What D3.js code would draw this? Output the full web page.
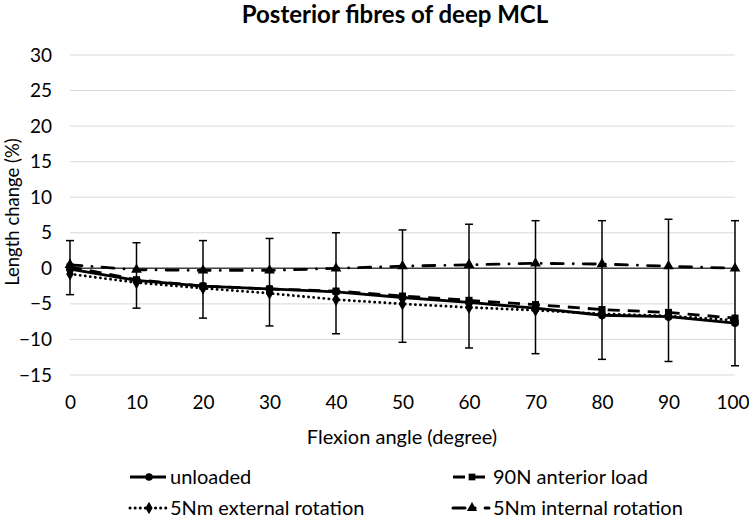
<!DOCTYPE html>
<html>
<head>
<meta charset="utf-8">
<script src="https://cdn.jsdelivr.net/npm/d3@7"></script>
<style>
  body { margin: 0; background: #fff; }
  svg { font-family: Lato, "Open Sans", sans-serif; }
</style>
</head>
<body>
<div id="chart"></div>
<script>
// --- DATA ---
const angles = [0, 10, 20, 30, 40, 50, 60, 70, 80, 90, 100];
const unloaded = [-0.1, -1.7, -2.5, -2.9, -3.3, -4.1, -4.8, -5.6, -6.6, -6.8, -7.7];
const anteriorLoad = [0.2, -1.6, -2.5, -2.9, -3.2, -3.9, -4.5, -5.1, -5.8, -6.2, -7.0];
const externalRot = [-0.8, -2.0, -2.8, -3.5, -4.4, -5.0, -5.5, -5.9, -6.4, -6.7, -7.3];
const internalRot = [0.5, -0.2, -0.3, -0.3, 0.0, 0.3, 0.5, 0.7, 0.6, 0.3, 0.0];
const errTop = [3.9, 3.6, 3.9, 4.2, 5.0, 5.4, 6.2, 6.7, 6.7, 6.9, 6.7];
const errBottom = [-3.7, -5.6, -7.0, -8.1, -9.2, -10.4, -11.2, -12.0, -12.8, -13.1, -13.7];
const yTicks = [-15, -10, -5, 0, 5, 10, 15, 20, 25, 30];

const series = [
  { name: "unloaded", values: unloaded, dash: null, marker: d3.symbolCircle },
  { name: "90N anterior load", values: anteriorLoad, dash: "12,8", marker: d3.symbolSquare },
  { name: "5Nm external rotation", values: externalRot, dash: "0.1,5", cap: "round", marker: d3.symbolDiamond },
  { name: "5Nm internal rotation", values: internalRot, dash: "12,10,0.1,10", cap: "round", marker: d3.symbolTriangle }
];

// --- LAYOUT ---
const width = 749, height = 521;
const svg = d3.select("#chart").append("svg")
  .attr("width", width).attr("height", height);

const x = d3.scaleLinear().domain([0, 100]).range([70, 735]);
const y = d3.scaleLinear().domain([-15, 30]).range([375, 55]);

// title
svg.append("text")
  .attr("x", 395).attr("y", 23)
  .attr("text-anchor", "middle")
  .attr("font-size", 24).attr("font-weight", "bold")
  .attr("fill", "#000")
  .text("Posterior fibres of deep MCL");

// gridlines
svg.append("g").selectAll("line")
  .data(yTicks).enter().append("line")
  .attr("x1", x(0)).attr("x2", x(100))
  .attr("y1", d => y(d)).attr("y2", d => y(d))
  .attr("stroke", "#d9d9d9").attr("stroke-width", 1);

// y tick labels
const yAxis = svg.append("g")
  .attr("transform", `translate(${x(0)},0)`)
  .call(d3.axisLeft(y).tickValues(yTicks).tickSize(0).tickPadding(18));
yAxis.select(".domain").remove();
yAxis.selectAll("text").attr("font-size", 19).attr("fill", "#000").attr("font-family", "Lato");

// x tick labels (axis placed low); "100" runs to the right edge as in the original
const xAxis = svg.append("g")
  .attr("transform", `translate(0,${y(-15)})`)
  .call(d3.axisBottom(x).tickValues(angles).tickSize(0).tickPadding(21));
xAxis.select(".domain").remove();
xAxis.selectAll("text").attr("font-size", 19).attr("fill", "#000").attr("font-family", "Lato");
xAxis.selectAll("text").filter(d => d === 100).attr("text-anchor", "end").attr("dx", 14);

// horizontal axis line at zero
svg.append("line")
  .attr("x1", x(0)).attr("x2", x(100))
  .attr("y1", y(0)).attr("y2", y(0))
  .attr("stroke", "#404040").attr("stroke-width", 1.5);

// axis titles
svg.append("text")
  .attr("x", 402).attr("y", 444)
  .attr("text-anchor", "middle").attr("font-size", 20)
  .text("Flexion angle (degree)");

svg.append("text")
  .attr("transform", "translate(19,212) rotate(-90)")
  .attr("text-anchor", "middle").attr("font-size", 18.5)
  .text("Length change (%)");

// error bars
const eb = svg.append("g");
angles.forEach((a, i) => {
  eb.append("line")
    .attr("x1", x(a)).attr("x2", x(a))
    .attr("y1", y(errTop[i])).attr("y2", y(errBottom[i]))
    .attr("stroke", "#000").attr("stroke-width", 1.5);
  [errTop[i], errBottom[i]].forEach(v => {
    eb.append("line")
      .attr("x1", x(a) - 4).attr("x2", x(a) + 4)
      .attr("y1", y(v)).attr("y2", y(v))
      .attr("stroke", "#000").attr("stroke-width", 1.5);
  });
});

// lines and markers
const line = d3.line().x((d, i) => x(angles[i])).y(d => y(d));

series.slice().reverse().forEach(s => {
  svg.append("path")
    .datum(s.values)
    .attr("d", line)
    .attr("fill", "none")
    .attr("stroke", "#000")
    .attr("stroke-width", 2.8)
    .attr("stroke-linecap", s.cap || "butt")
    .attr("stroke-dasharray", s.dash);

  svg.append("g").selectAll("path")
    .data(s.values).enter().append("path")
    .attr("d", d3.symbol().type(s.marker).size(50))
    .attr("transform", (d, i) => `translate(${x(angles[i])},${y(d)})`)
    .attr("fill", "#000");
});

// legend
const legendPos = [
  { x: 130, y: 477 }, { x: 453, y: 477 },
  { x: 130, y: 508 }, { x: 453, y: 508 }
];
series.forEach((s, i) => {
  const p = legendPos[i];
  const g = svg.append("g").attr("transform", `translate(${p.x},${p.y})`);
  g.append("line")
    .attr("x1", 0).attr("x2", 36).attr("y1", 0).attr("y2", 0)
    .attr("stroke", "#000").attr("stroke-width", 3)
    .attr("stroke-linecap", s.cap || "butt")
    .attr("stroke-dasharray", s.dash);
  g.append("path")
    .attr("d", d3.symbol().type(s.marker).size(45))
    .attr("transform", "translate(19,0)")
    .attr("fill", "#000");
  g.append("text")
    .attr("x", 40).attr("y", 0).attr("dy", "0.35em")
    .attr("font-size", 20)
    .text(s.name);
});
</script>
</body>
</html>
